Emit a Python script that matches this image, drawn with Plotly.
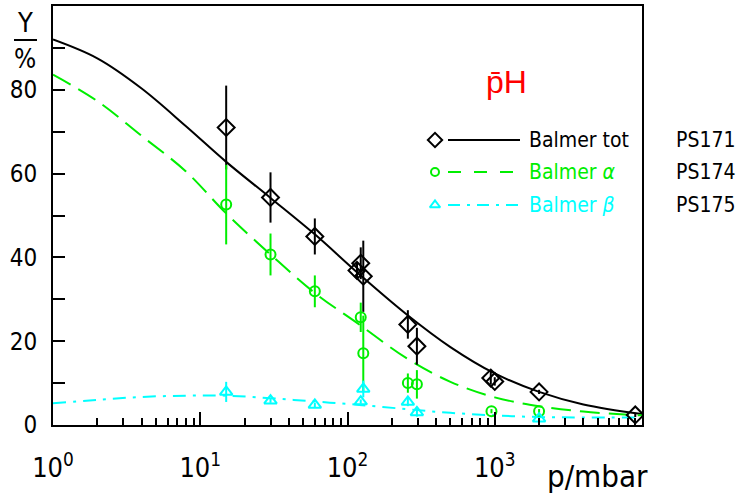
import plotly.graph_objects as go

# ---------------- data ----------------
tot_p = [15, 30, 60, 116, 123, 128, 257, 296, 940, 1000, 2000, 9000]
tot_y = [71, 54.3, 45, 36.9, 38.6, 35.5, 24, 18.8, 11.2, 10.4, 7.9, 2.4]
tot_err = [10, 6, 4.3, 2, 3.8, 8.5, 3.4, 4.4, 1.5, 1.0, 0.5, 0.5]

alpha_p = [15, 30, 60, 123, 128, 257, 296, 950, 2000]
alpha_y = [52.6, 40.7, 31.9, 25.7, 17.1, 10.0, 9.7, 3.3, 3.3]
alpha_err = [9.5, 5, 3.8, 3.5, 9, 2.3, 3.4, 0.5, 0.5]

beta_p = [15, 30, 60, 123, 128, 257, 296, 2000]
beta_y = [7.9, 5.8, 4.8, 5.6, 8.6, 5.5, 3.0, 1.5]
beta_err = [2.4, 0.5, 0.5, 0.5, 2.0, 1.0, 1.0, 0.5]

curve_p = [1, 2, 4, 8, 15, 30, 60, 120, 250, 500, 1000, 2000, 4000, 10000]
curve_tot = [92, 87.5, 80.3, 71.3, 62.8, 54.2, 45.5, 36, 26.5, 18.6, 12.3, 7.9, 4.9, 2.6]
curve_alpha = [83.6, 77.3, 69, 60.5, 50.5, 40.7, 31.5, 24, 16.0, 10.3, 6.6, 4.5, 3.2, 2.3]
curve_beta = [5.2, 6.0, 6.7, 7.0, 7.0, 6.4, 5.6, 4.8, 3.8, 2.9, 2.3, 1.9, 1.8, 1.8]

x_tickvals = [1, 10, 100, 1000]
x_ticktext = ["10<sup>0</sup>", "10<sup>1</sup>", "10<sup>2</sup>", "10<sup>3</sup>"]
y_tickvals = [0, 10, 20, 30, 40, 50, 60, 70, 80, 90]
y_ticktext = ["0", "", "20", "", "40", "", "60", "", "80", ""]

legend_labels = ["Balmer tot", "Balmer <i>α</i>", "Balmer <i>β</i>"]
exp_labels = ["PS171", "PS174", "PS175"]

# ---------------- styling ----------------
W, H = 740, 496
L, R, T, B = 53, 642, 6, 425
FONT = "DejaVu Sans Condensed, Liberation Sans Narrow, sans-serif"
BLACK, GREEN, CYAN, RED = "#000000", "#00ee00", "#00ffff", "#ff0000"
colors = [BLACK, GREEN, CYAN]
curve_dashes = ["solid", "20px,9px", "13px,7px,3px,7px"]
legend_dashes = ["solid", "13px,13px", "12px,7px,3px,7px"]
symbols = ["diamond-open", "circle-open", "triangle-up-open"]
msizes = [13, 10, 11]


def px(x):
    return (x - L) / (R - L)


def py(y):
    return (B - y) / (B - T)


fig = go.Figure()

for ys, c, d in zip([curve_tot, curve_alpha, curve_beta], colors, curve_dashes):
    fig.add_trace(go.Scatter(x=curve_p, y=ys, mode="lines",
                             line=dict(color=c, width=2, dash=d, shape="spline", smoothing=1.0),
                             hoverinfo="skip"))

for xs, ys, es, c, s, m in zip([tot_p, alpha_p, beta_p], [tot_y, alpha_y, beta_y],
                               [tot_err, alpha_err, beta_err], colors, symbols, msizes):
    fig.add_trace(go.Scatter(x=xs, y=ys, mode="markers",
                             marker=dict(symbol=s, size=m, color=c, line=dict(color=c, width=2)),
                             error_y=dict(type="data", array=es, visible=True, thickness=2,
                                          width=0, color=c)))

# legend graphics on a pixel-space overlay axis
leg_rows = [140, 172, 205]
for row, c, d, s, m in zip(leg_rows, colors, legend_dashes, symbols, msizes):
    fig.add_trace(go.Scatter(x=[448, 520], y=[row, row], mode="lines", xaxis="x2", yaxis="y2",
                             line=dict(color=c, width=2, dash=d), hoverinfo="skip"))
    fig.add_trace(go.Scatter(x=[435], y=[row], mode="markers", xaxis="x2", yaxis="y2",
                             marker=dict(symbol=s, size=m - 2, color=c, line=dict(color=c, width=2)),
                             hoverinfo="skip"))

annotations = []
for row, c, lab in zip(leg_rows, colors, legend_labels):
    annotations.append(dict(x=px(527), y=py(row), xref="paper", yref="paper", text=lab,
                            showarrow=False, xanchor="left", yanchor="middle",
                            font=dict(family=FONT, size=21, color=c)))
for row, lab in zip(leg_rows, exp_labels):
    annotations.append(dict(x=px(674), y=py(row), xref="paper", yref="paper", text=lab,
                            showarrow=False, xanchor="left", yanchor="middle",
                            font=dict(family=FONT, size=21, color=BLACK)))
annotations += [
    dict(x=px(506), y=py(82), xref="paper", yref="paper", text="p\u0304H", showarrow=False,
         xanchor="center", yanchor="middle", font=dict(family="Liberation Sans, sans-serif", size=32, color=RED)),
    dict(x=px(25), y=py(22), xref="paper", yref="paper", text="Y", showarrow=False,
         xanchor="center", yanchor="middle", font=dict(family=FONT, size=27, color=BLACK)),
    dict(x=px(25), y=py(59), xref="paper", yref="paper", text="%", showarrow=False,
         xanchor="center", yanchor="middle", font=dict(family=FONT, size=26, color=BLACK)),
    dict(x=px(597), y=py(476), xref="paper", yref="paper", text="p/mbar", showarrow=False,
         xanchor="center", yanchor="middle", font=dict(family=FONT, size=31, color=BLACK)),
]

shapes = [dict(type="line", xref="paper", yref="paper", x0=px(14), x1=px(37), y0=py(40), y1=py(40),
               line=dict(color=BLACK, width=2))]

minor_x = [m * 10 ** k for k in range(4) for m in range(2, 10)]

fig.update_layout(
    width=W, height=H,
    margin=dict(l=L, r=W - R, t=T, b=H - B, pad=0, autoexpand=False),
    paper_bgcolor="white", plot_bgcolor="white",
    showlegend=False,
    annotations=annotations, shapes=shapes,
    xaxis=dict(type="log", range=[0, 4], tickvals=x_tickvals, ticktext=x_ticktext, automargin=False,
               ticks="inside", ticklen=13, tickwidth=2, tickcolor=BLACK,
               minor=dict(tickvals=minor_x, ticks="inside", ticklen=7, tickwidth=1.5, tickcolor=BLACK,
                          showgrid=False),
               showgrid=False, zeroline=False, showline=True, linecolor=BLACK, linewidth=2, mirror=True,
               tickfont=dict(family=FONT, size=27, color=BLACK), ticklabelstandoff=18),
    yaxis=dict(range=[0, 100], tickvals=y_tickvals, ticktext=y_ticktext, automargin=False,
               ticks="inside", ticklen=12, tickwidth=2, tickcolor=BLACK,
               showgrid=False, zeroline=False, showline=True, linecolor=BLACK, linewidth=2, mirror=True,
               tickfont=dict(family=FONT, size=24, color=BLACK), ticklabelstandoff=9),
    xaxis2=dict(overlaying="x", anchor="y2", range=[L, R], visible=False, fixedrange=True, automargin=False),
    yaxis2=dict(overlaying="y", anchor="x2", range=[B, T], visible=False, fixedrange=True, automargin=False),
)

fig.write_html("out.html")
